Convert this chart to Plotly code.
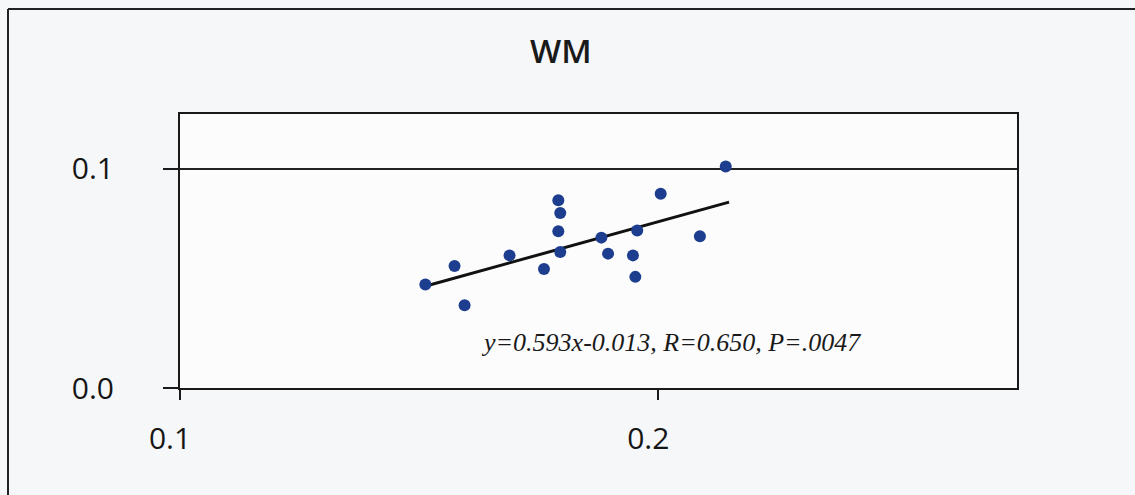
import plotly.graph_objects as go

# ---- data ----
x_vals = [0.2141, 0.2005, 0.1791, 0.1795, 0.1791, 0.1795, 0.1956, 0.1881, 0.2087,
          0.1689, 0.1895, 0.1947, 0.1574, 0.1761, 0.1952, 0.1513, 0.1595]
y_vals = [0.1010, 0.0886, 0.0856, 0.0798, 0.0715, 0.0620, 0.0719, 0.0686, 0.0692,
          0.0605, 0.0613, 0.0605, 0.0557, 0.0543, 0.0507, 0.0472, 0.0378]
trend_x = [0.1520, 0.2148]
trend_y = [0.0469, 0.0848]
x_ticks = [0.1, 0.2]
x_tick_labels = ["0.1", "0.2"]
y_ticks = [0.0, 0.1]
y_tick_labels = ["0.0", "0.1"]
title_text = "WM"
eq_text = "y=0.593x-0.013, R=0.650, P=.0047"

W, H = 1135, 495
ML, MR, MT, MB = 180, 118, 114, 107
pw, ph = W - ML - MR, H - MT - MB

fig = go.Figure()
fig.add_trace(go.Scatter(
    x=trend_x, y=trend_y, mode="lines",
    line=dict(color="#111111", width=3), showlegend=False, hoverinfo="skip"))
fig.add_trace(go.Scatter(
    x=x_vals, y=y_vals, mode="markers",
    marker=dict(color="#1d3d8e", size=12, line=dict(width=0)), showlegend=False))

axis_font = dict(family="Open Sans", size=30, color="#151515", weight=500)
fig.update_layout(
    width=W, height=H,
    margin=dict(l=ML, r=MR, t=MT, b=MB, pad=0),
    paper_bgcolor="#f6f7f9",
    plot_bgcolor="#fcfcfd",
    font=axis_font,
    xaxis=dict(range=[0.1, 0.275], tickvals=x_ticks, ticktext=x_tick_labels,
               showgrid=False, zeroline=False,
               showline=True, linecolor="#1a1a1a", linewidth=2, mirror=True,
               ticks="outside", ticklen=10, tickwidth=2, tickcolor="#1a1a1a",
               ticklabelstandoff=13, ticklabelshift=-10, tickfont=axis_font),
    yaxis=dict(range=[0, 0.125], tickvals=y_ticks, ticktext=y_tick_labels,
               showgrid=True, gridcolor="#222222", gridwidth=2, zeroline=False,
               showline=True, linecolor="#1a1a1a", linewidth=2, mirror=True,
               ticks="outside", ticklen=15, tickwidth=2, tickcolor="#1a1a1a",
               ticklabelstandoff=43, tickfont=axis_font),
)

# outer frame (left and top edges visible)
def px_to_paper_x(px):
    return (px - ML) / pw

def px_to_paper_y(py):
    return (H - MB - py) / ph

fx0 = px_to_paper_x(8)
fy1 = px_to_paper_y(9)
fx1 = px_to_paper_x(W + 20)
fy0 = px_to_paper_y(H + 20)
fig.add_shape(type="line", xref="paper", yref="paper", x0=fx0, x1=fx1, y0=fy1, y1=fy1,
              line=dict(color="#222222", width=2), layer="above")
fig.add_shape(type="line", xref="paper", yref="paper", x0=fx0, x1=fx0, y0=fy0, y1=fy1,
              line=dict(color="#222222", width=2), layer="above")

fig.add_annotation(text=title_text, xref="paper", yref="paper",
                   x=px_to_paper_x(561), y=px_to_paper_y(50),
                   showarrow=False, xanchor="center", yanchor="middle",
                   font=dict(family="Open Sans", size=33, color="#1a1a1a", weight=600))
fig.add_annotation(text=eq_text, xref="paper", yref="paper",
                   x=px_to_paper_x(671), y=px_to_paper_y(342),
                   showarrow=False, xanchor="center", yanchor="middle",
                   font=dict(family="Liberation Serif", size=26, color="#1a1a1a",
                             style="italic"))

fig.write_html("out.html")
